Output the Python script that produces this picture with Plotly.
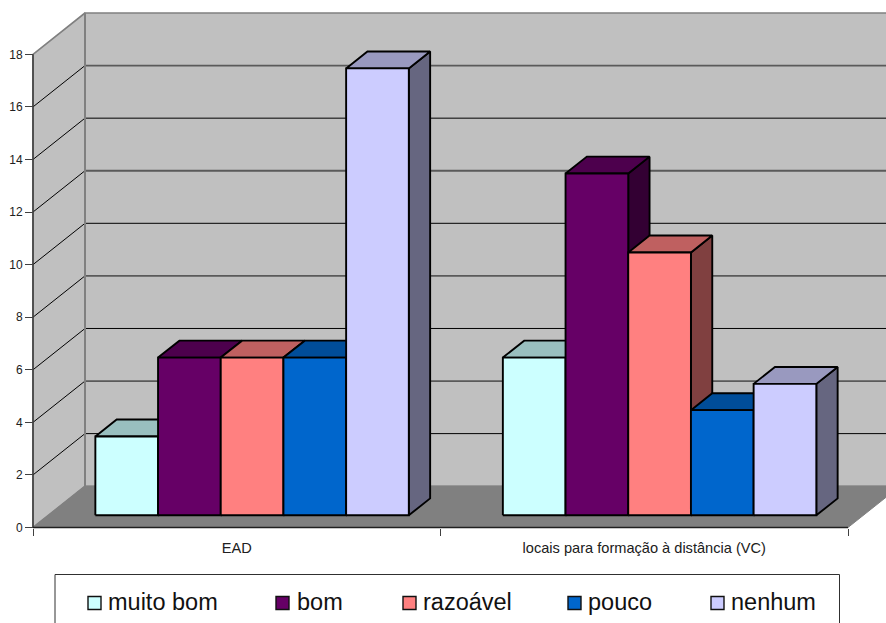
import plotly.graph_objects as go

# Survey results per category
categories = ["EAD", "locais para formação à distância (VC)"]
series_names = ["muito bom", "bom", "razoável", "pouco", "nenhum"]
muito_bom = [3, 6]
bom = [6, 13]
razoavel = [6, 10]
pouco = [6, 4]
nenhum = [17, 5]
series_values = [muito_bom, bom, razoavel, pouco, nenhum]

front_colors = ["#CCFFFF", "#660066", "#FF8080", "#0066CC", "#CCCCFF"]
top_colors = ["#99BFBF", "#4D004D", "#BF6060", "#004D99", "#9999BF"]
side_colors = ["#668080", "#330033", "#804040", "#003366", "#666680"]
y_ticks = list(range(0, 20, 2))

# Pixel frame of the chart
W, H = 886, 623
PAD = 4
LEFT, RIGHT_AXIS, ZERO_Y, TOP18_Y, WALL_TOP_Y = 33, 848, 527.5, 54.3, 13
PX_X = (RIGHT_AXIS - LEFT) / len(categories)
PX_Y = (ZERO_Y - TOP18_Y) / 18

# Oblique projection: one full depth step of the box in axis units
DEPTH_X = 52 / PX_X
DEPTH_Y = (TOP18_Y - WALL_TOP_Y) / PX_Y
BAR_D0, BAR_D1 = 0.295, 0.705
GAP_WIDTH = 1.5


def project(x, v, d=0.0):
    return x + d * DEPTH_X, v + d * DEPTH_Y


def poly(points, fill, line_color="black", line_width=1.9):
    xs, ys = zip(*points)
    return go.Scatter(
        x=list(xs) + [xs[0]],
        y=list(ys) + [ys[0]],
        mode="lines",
        fill="toself",
        fillcolor=fill,
        line=dict(color=line_color, width=line_width),
        hoverinfo="skip",
        showlegend=False,
    )


def segment(points, color, width):
    xs, ys = zip(*points)
    return go.Scatter(
        x=list(xs), y=list(ys), mode="lines",
        line=dict(color=color, width=width),
        hoverinfo="skip", showlegend=False,
    )


fig = go.Figure()
n_cat = len(categories)
FAR = n_cat + 0.2
top_val = y_ticks[-1]

# Walls and floor of the box
fig.add_trace(poly([project(0, 0), project(0, 0, 1), project(0, top_val, 1), project(0, top_val)],
                   "#C0C0C0", "#808080", 1.6))
fig.add_trace(poly([project(0, 0, 1), project(FAR, 0, 1), project(FAR, top_val, 1), project(0, top_val, 1)],
                   "#C0C0C0", "#808080", 1.6))
fig.add_trace(poly([project(0, 0), project(n_cat, 0), project(n_cat, 0, 1),
                    project(FAR, 0, 1), project(0, 0, 1)], "#808080", "#808080", 1))

# Gridlines: thin diagonals on the side wall, alternating weight on the back wall
for v in y_ticks[1:-1]:
    heavy = v % 4 == 0
    color, width = ("#5A5A5A", 1.8) if heavy else ("#000000", 1.0)
    fig.add_trace(segment([project(0, v), project(0, v, 1)], "#000000", 1.0))
    fig.add_trace(segment([project(0, v, 1), project(FAR, v, 1)], color, width))

# Corner where the two walls meet
fig.add_trace(segment([project(0, 0, 1), project(0, top_val, 1)], "#808080", 2))

# Columns, painted left to right so each front hides its neighbour's side
bar_w = 1 / (len(series_names) + GAP_WIDTH)
for c in range(n_cat):
    for s, values in enumerate(series_values):
        x0 = c + bar_w * (GAP_WIDTH / 2 + s)
        x1 = x0 + bar_w
        v = values[c]
        fig.add_trace(poly([project(x1, 0, BAR_D0), project(x1, 0, BAR_D1),
                            project(x1, v, BAR_D1), project(x1, v, BAR_D0)], side_colors[s]))
        fig.add_trace(poly([project(x0, v, BAR_D0), project(x1, v, BAR_D0),
                            project(x1, v, BAR_D1), project(x0, v, BAR_D1)], top_colors[s]))
        fig.add_trace(poly([project(x0, 0, BAR_D0), project(x1, 0, BAR_D0),
                            project(x1, v, BAR_D0), project(x0, v, BAR_D0)], front_colors[s]))

# Axis lines
fig.add_trace(segment([(0, 0), (0, top_val)], "#404040", 1.6))
fig.add_trace(segment([(0, 0), (n_cat, 0)], "#202020", 1.4))

# Legend panel: swatches and labels placed by pixel offset
legend_swatch_x = [88, 276, 403, 568, 711]
legend_text_x = [106, 295, 421, 586, 729]
shapes = [dict(type="rect", xref="paper", yref="paper",
               x0=55 / W, x1=839.5 / W, y0=-0.05, y1=1 - 574.5 / H,
               fillcolor="white", line=dict(color="#303030", width=1), layer="above")]
annotations = []
for name, sx, tx, col in zip(series_names, legend_swatch_x, legend_text_x, front_colors):
    shapes.append(dict(type="rect", xref="paper", yref="paper",
                       x0=sx / W, x1=(sx + 13) / W,
                       y0=1 - 609.5 / H, y1=1 - 596.5 / H,
                       fillcolor=col, line=dict(color="#101010", width=1.4), layer="above"))
    annotations.append(dict(xref="paper", yref="paper", x=tx / W, y=1 - 602 / H,
                            text=name, showarrow=False, xanchor="left", yanchor="middle",
                            font=dict(family="Liberation Sans", size=23.5, color="#111111")))

fig.update_layout(
    width=W, height=H,
    margin=dict(l=0, r=0, t=0, b=0, pad=0, autoexpand=False),
    autosize=False,
    paper_bgcolor="white", plot_bgcolor="white",
    shapes=shapes, annotations=annotations,
    showlegend=False,
    font=dict(family="Liberation Sans", color="#202020"),
    xaxis=dict(
        domain=[(LEFT - PAD) / W, 1],
        range=[-PAD / PX_X, (W - LEFT) / PX_X],
        anchor="free", position=1 - ZERO_Y / H,
        tickmode="array",
        tickvals=[i + 0.5 for i in range(n_cat)], ticktext=categories,
        ticks="", ticklen=0, ticklabelstandoff=10,
        tickfont=dict(size=14.6, color="#202020"),
        minor=dict(tickmode="array", tickvals=list(range(n_cat + 1)),
                   ticks="outside", ticklen=7, tickwidth=1, tickcolor="#404040", showgrid=False),
        showgrid=False, zeroline=False, showline=False,
    ),
    yaxis=dict(
        domain=[1 - (ZERO_Y + PAD) / H, 1 - (WALL_TOP_Y - PAD) / H],
        range=[-PAD / PX_Y, (ZERO_Y - WALL_TOP_Y + PAD) / PX_Y],
        anchor="free", position=LEFT / W,
        tickmode="array", tickvals=y_ticks,
        ticks="outside", ticklen=8, tickwidth=1, tickcolor="#404040",
        tickfont=dict(size=12, color="#202020"),
        showgrid=False, zeroline=False, showline=False,
    ),
)

fig.write_html("out.html")
